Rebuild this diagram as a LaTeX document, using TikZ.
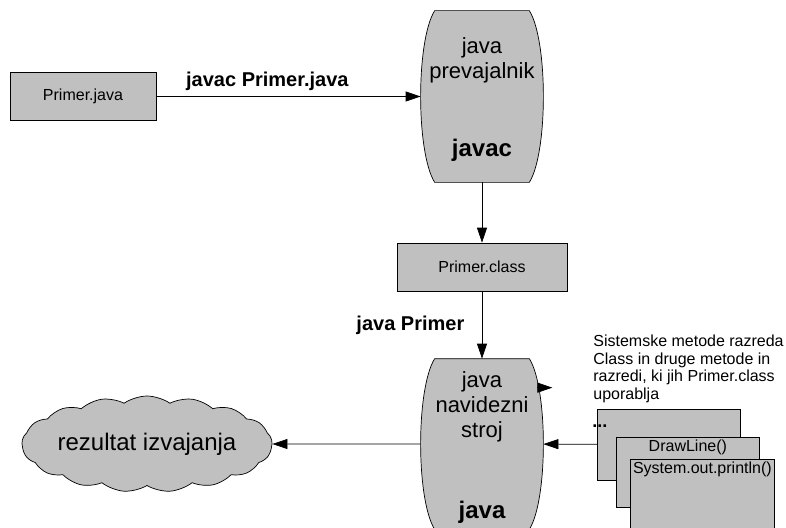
\documentclass[tikz,border=0pt]{standalone}
\usepackage{fontspec}
\setmainfont{Liberation Sans}
\usetikzlibrary{arrows.meta,shapes.symbols}
\definecolor{boxgray}{RGB}{192,192,192}

\tikzset{
  filebox/.style={draw, fill=boxgray, minimum width=146pt, minimum height=48pt, font=\fontsize{16}{18}\selectfont},
  barrel/.style={minimum width=122pt, minimum height=171pt, inner sep=0pt},
  methodbox/.style={draw, fill=boxgray, anchor=north west, inner xsep=1pt, inner ysep=1.5pt, font=\fontsize{16}{18}\selectfont},
  arr/.style={-{Triangle[length=15pt,width=10pt]}},
  cmd/.style={font=\bfseries\fontsize{20}{24}\selectfont},
  bigtxt/.style={font=\fontsize{22}{25}\selectfont, align=center},
  bigbold/.style={font=\bfseries\fontsize{24}{28}\selectfont},
}
% barrel outline round an empty node
\newcommand{\drawbarrel}[1]{%
  \draw[fill=boxgray] ([xshift=14pt]#1.north west) -- ([xshift=-14pt]#1.north east)
    .. controls ([xshift=4.7pt,yshift=-30pt]#1.north east) and ([xshift=4.7pt,yshift=30pt]#1.south east) .. ([xshift=-14pt]#1.south east)
    -- ([xshift=14pt]#1.south west)
    .. controls ([xshift=-4.7pt,yshift=30pt]#1.south west) and ([xshift=-4.7pt,yshift=-30pt]#1.north west) .. cycle;
}

\begin{document}
\begin{tikzpicture}[x=1pt,y=-1pt,line width=0.7pt]
  \useasboundingbox (0,0) rectangle (786,527);

  % compiler
  \node[filebox] (srcfile) at (83,96.5) {Primer.java};
  \node[barrel] (javac) at (482,96.5) {};
  \drawbarrel{javac}
  \node[bigtxt] (javactxt) at (482,60) {java\\prevajalnik};
  \node[bigbold] (javacname) at (482,150) {javac};
  \node[filebox, minimum width=170pt] (classfile) at (482,267) {Primer.class};

  % virtual machine
  \node[barrel, minimum height=170pt] (jvm) at (482,444) {};
  \drawbarrel{jvm}
  \node[bigtxt] (jvmtxt) at (482,407) {java\\navidezni\\stroj};
  \node[bigbold] (jvmname) at (482,512) {java};

  \node[cloud, draw, fill=boxgray, cloud puffs=17, cloud puff arc=70, cloud ignores aspect, inner sep=0pt,
        minimum width=243pt, minimum height=96pt, font=\fontsize{24}{28}\selectfont] (result) at (147,444) {rezultat izvajanja};

  % used methods
  \node[methodbox, minimum width=143pt, minimum height=71pt] (others) at (597,408.5) {};
  \node[font=\bfseries\fontsize{18}{20}\selectfont, inner sep=0pt, anchor=base west] (dots) at (592,427) {...};
  \node[methodbox, minimum width=143pt, text height=13pt, text depth=54pt] (drawline) at (616,437) {DrawLine()};
  \node[methodbox, minimum width=144pt, text height=13pt, text depth=70pt] (println) at (630,459) {System.out.println()};
  \node[anchor=north west, align=left, inner sep=0pt, font=\fontsize{16}{17.5}\selectfont] (note) at (593,335)
    {Sistemske metode razreda\\Class in druge metode in\\razredi, ki jih Primer.class\\uporablja};

  % connectors
  \draw[arr] (srcfile) -- (javac) node[cmd, pos=0.42, above=2pt] (compilecmd) {javac Primer.java};
  \draw[arr] (javac) -- (classfile);
  \draw[arr] (classfile) -- (jvm) node[cmd, midway, left=14pt] (runcmd) {java Primer};
  \draw[arr] (jvm) -- (result);
  \draw[arr] (others) -- (jvm);
  \coordinate (tipbase) at ([xshift=-6pt,yshift=-29pt]jvm.north east);
  \coordinate (tipend) at ([xshift=9pt,yshift=-29pt]jvm.north east);
  \draw[arr] (tipbase) -- (tipend);
\end{tikzpicture}
\end{document}
